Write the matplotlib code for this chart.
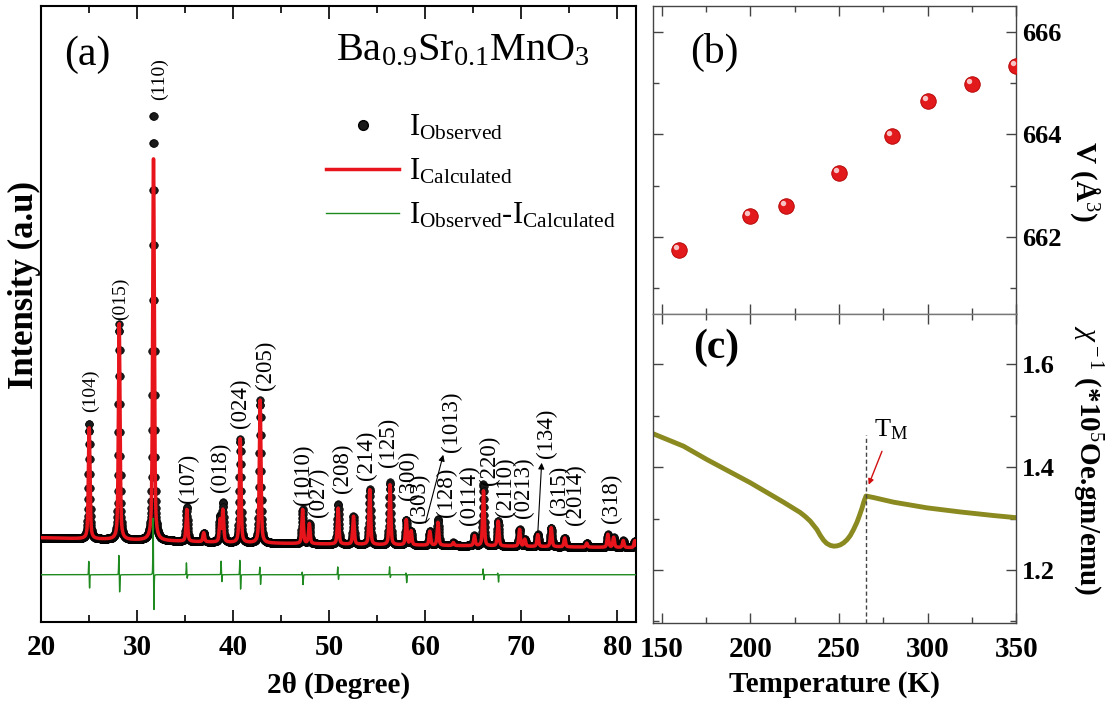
import numpy as np
import matplotlib.pyplot as plt
from matplotlib.lines import Line2D
from matplotlib.transforms import ScaledTranslation
from matplotlib.ticker import MultipleLocator

# ==========================================================
# DATA
# ==========================================================
# (a) XRD Rietveld refinement : peak list (2theta, calc / observed height, a.u.)
peak_pos = [24.97, 28.10, 31.67, 35.14, 36.90, 38.60, 38.90, 40.70, 42.78,
            47.20, 47.90, 50.90, 52.50, 54.20, 56.30, 58.00, 58.50, 60.45,
            61.30, 62.90, 65.10, 66.04, 67.57, 69.80, 70.35, 71.70, 73.10,
            74.50, 76.80, 79.00, 79.60, 80.60, 81.80]
calc_height = [112, 216, 385, 32, 9, 22, 32, 104, 143,
               34, 20, 36, 28, 55, 60, 25, 14, 14,
               23, 3, 10, 55, 25, 17, 7, 12, 19,
               9, 4, 13, 10, 7, 7]
obs_height = [116, 216, 428, 34, 9, 25, 39, 104, 143,
              34, 20, 40, 28, 55, 63, 25, 14, 14,
              26, 3, 10, 62, 25, 17, 7, 12, 19,
              9, 4, 13, 10, 7, 7]
peak_fwhm = 0.2

bg_theta = [20, 40, 55, 82]
bg_level = [2, -3, -5, -8]

# difference curve spikes
res_pos = [24.97, 28.10, 31.67, 35.14, 38.75, 40.70, 42.78, 47.20, 50.90,
           56.30, 58.00, 66.04, 67.57]
res_up = [15, 20, 63, 12, 15, 15, 8, 3, 8, 8, 2, 6, 2]
res_down = [15, 18, 40, 4, 8, 15, 10, 10, 5, 3, 8, 5, 8]
res_offset = -35

# Miller indices
hkl_text = ["(104)", "(015)", "(110)", "(107)", "(018)", "(024)", "(205)",
            "(1010)", "(027)", "(208)", "(214)", "(125)", "(300)", "(303)",
            "(128)", "(1013)", "(0114)", "(220)", "(2110)", "(0213)", "(134)",
            "(315)", "(2014)", "(318)"]
hkl_x = [25.1, 28.2, 32.3, 35.3, 38.6, 40.7, 43.3,
         47.3, 48.85, 51.4, 53.9, 56.1, 58.2, 59.4,
         62.2, 62.7, 64.6, 66.7, 68.3, 70.2, 72.6,
         74.0, 75.6, 79.4]
hkl_y = [128, 220, 440, 37, 48, 112, 150,
         35, 23, 47, 60, 73, 40, 17,
         23, 88, 15, 55, 23, 22, 82,
         25, 15, 17]

arrow_from = [(60.0, 17), (71.7, 7)]
arrow_to = [(61.85, 85), (72.1, 77)]

# (b) cell volume vs T
T_vol = [160, 200, 220, 250, 280, 300, 325, 350]
volume = [661.74, 662.41, 662.60, 663.25, 663.97, 664.66, 664.99, 665.34]

# (c) inverse susceptibility
T_chi = [145.3, 162.3, 175.5, 199.9, 218.7, 228.1, 231.0, 233.8, 237.5,
         239.5, 241.3, 243.0, 245.1, 247.0, 248.8, 250.7, 252.6, 254.5,
         256.3, 258.2, 260.1, 261.5, 262.9, 264.0, 265.2, 269.5, 280.8,
         299.6, 318.4, 337.2, 349.5]
chi_inv = [1.465, 1.441, 1.415, 1.370, 1.332, 1.312, 1.304, 1.295, 1.279,
           1.267, 1.258, 1.252, 1.248, 1.2465, 1.247, 1.249, 1.253, 1.259,
           1.267, 1.279, 1.293, 1.306, 1.320, 1.333, 1.344, 1.341, 1.332,
           1.321, 1.313, 1.306, 1.302]
T_M = 265.2


def pseudo_voigt(x, x0, h, w, eta=0.5):
    g = np.exp(-4 * np.log(2) * ((x - x0) / w) ** 2)
    l = 1.0 / (1 + 4 * ((x - x0) / w) ** 2)
    return h * (eta * l + (1 - eta) * g)


# --- style ---
plt.rcParams.update({
    "font.family": "Liberation Serif",
    "mathtext.fontset": "custom",
    "mathtext.rm": "Liberation Serif",
    "mathtext.it": "Liberation Serif:italic",
    "mathtext.bf": "Liberation Serif:bold",
})

fig = plt.figure(figsize=(11.12, 7.04), dpi=100)
ax_a = fig.add_axes([0.0373, 0.1169, 0.5344, 0.8746])
ax_b = fig.add_axes([0.587, 0.554, 0.3271, 0.4375])
ax_c = fig.add_axes([0.587, 0.115, 0.3271, 0.439])

# ==========================================================
# (a) XRD
# ==========================================================
tt = np.arange(20, 82.01, 0.02)
bg = np.interp(tt, bg_theta, bg_level)
calc = bg.copy()
obs = bg.copy()
for p, hc, ho in zip(peak_pos, calc_height, obs_height):
    calc += pseudo_voigt(tt, p, hc, peak_fwhm)
    obs += pseudo_voigt(tt, p, ho, peak_fwhm)

diff = np.full_like(tt, res_offset, dtype=float)
for p, u, d in zip(res_pos, res_up, res_down):
    diff += pseudo_voigt(tt, p - 0.04, u, 0.06, eta=0.3)
    diff -= pseudo_voigt(tt, p + 0.04, d, 0.06, eta=0.3)

ax_a.plot(tt, obs, 'o', ms=5.5, color='#1a1a1a', mec='black', mew=0.4, zorder=2)
ax_a.plot(tt, calc, color='#e8141b', lw=2.5, zorder=3)
ax_a.plot(tt, diff, color='#1f8a1f', lw=1.0, zorder=3)

for txt, x, y in zip(hkl_text, hkl_x, hkl_y):
    fs = 14 if txt in ("(104)", "(015)", "(110)") else 16.5
    ax_a.text(x, y, txt, rotation=90, ha='center', va='bottom', fontsize=fs)

for a0, a1 in zip(arrow_from, arrow_to):
    ax_a.annotate('', xy=a1, xytext=a0,
                  arrowprops=dict(arrowstyle='-|>', color='black', lw=0.8,
                                  mutation_scale=9, shrinkA=0, shrinkB=0))

ax_a.set_xlim(20, 81.9)
ax_a.set_ylim(-82, 534)
ax_a.xaxis.set_major_locator(MultipleLocator(10))
ax_a.xaxis.set_minor_locator(MultipleLocator(5))
ax_a.tick_params(axis='x', which='both', direction='in', top=True, bottom=True,
                 width=1.2, labelsize=21, pad=9)
ax_a.tick_params(axis='x', which='major', length=9)
ax_a.tick_params(axis='x', which='minor', length=5)
ax_a.tick_params(axis='y', left=False, labelleft=False)
for lab in ax_a.get_xticklabels():
    lab.set_fontweight('bold')
for s in ax_a.spines.values():
    s.set_linewidth(1.5)

ax_a.set_xlabel('2θ (Degree)', fontsize=21, fontweight='bold')
ax_a.xaxis.set_label_coords(0.5, -0.103)
ax_a.xaxis.label.set_va('center')
ax_a.set_ylabel('Intensity (a.u)', fontsize=25, fontweight='bold')
ax_a.yaxis.set_label_coords(-0.028, 0.547)
ax_a.yaxis.label.set_va('center')

ax_a.text(0.038, 0.92, '(a)', transform=ax_a.transAxes, fontsize=30,
          ha='left', va='center')
ax_a.text(0.496, 0.912, r'Ba$_{0.9}$Sr$_{0.1}$MnO$_{3}$', transform=ax_a.transAxes,
          fontsize=29, ha='left', va='baseline')

handles = [Line2D([], [], ls='', marker='o', ms=7, color='#1a1a1a', mec='black'),
           Line2D([], [], color='#e8141b', lw=2.5),
           Line2D([], [], color='#1f8a1f', lw=1.0)]
labels = [r'I$_{\rm Observed}$', r'I$_{\rm Calculated}$',
          r'I$_{\rm Observed}$-I$_{\rm Calculated}$']
ax_a.legend(handles, labels, loc='upper left', bbox_to_anchor=(0.478, 0.826),
            frameon=False, fontsize=22, handlelength=2.42, handletextpad=0.3,
            labelspacing=0.48, borderpad=0, borderaxespad=0, numpoints=1)

# ==========================================================
# (b) V vs T
# ==========================================================
ax_b.scatter(T_vol, volume, s=125, color='#e31a1c', edgecolors='#b00000',
             linewidths=0.6, zorder=3)
shine = ax_b.transData + ScaledTranslation(-2.2 / 72, 2.2 / 72, fig.dpi_scale_trans)
ax_b.scatter(T_vol, volume, s=15, color='white', alpha=0.75, lw=0,
             transform=shine, zorder=4)
ax_b.set_xlim(145, 350)
ax_b.set_ylim(660.49, 666.51)
ax_b.yaxis.set_major_locator(MultipleLocator(2))
ax_b.yaxis.set_minor_locator(MultipleLocator(1))
ax_b.yaxis.set_label_position('right')
ax_b.set_ylabel(r'V (Å$^{3}$)', fontsize=21, fontweight='bold', rotation=-90)
ax_b.yaxis.set_label_coords(1.188, 0.43)
ax_b.yaxis.label.set_va('center')
ax_b.text(0.103, 0.85, '(b)', transform=ax_b.transAxes, fontsize=30,
          ha='left', va='center')

# ==========================================================
# (c) inverse susceptibility
# ==========================================================
ax_c.plot(T_chi, chi_inv, color='#8a8a20', lw=3.5, solid_capstyle='round',
          solid_joinstyle='round')
ax_c.vlines(T_M, 1.097, 1.462, colors='#444444', linestyles=(0, (3, 2)), lw=1.0)
ax_c.text(269.8, 1.473, r'T$_{\rm M}$', fontsize=19, ha='left', va='center')
ax_c.annotate('', xy=(266.7, 1.366), xytext=(274.2, 1.431),
              arrowprops=dict(arrowstyle='-|>', color='#d01010', lw=1.0,
                              mutation_scale=8, shrinkA=0, shrinkB=0))
ax_c.set_xlim(145, 350)
ax_c.set_ylim(1.097, 1.698)
ax_c.yaxis.set_major_locator(MultipleLocator(0.2))
ax_c.yaxis.set_minor_locator(MultipleLocator(0.1))
ax_c.yaxis.set_label_position('right')
ax_c.set_ylabel(r'$\chi^{\rm -1}$ (*10$^{5}$Oe.gm/emu)', fontsize=21,
                fontweight='bold', rotation=-90)
ax_c.yaxis.set_label_coords(1.194, 0.527)
ax_c.yaxis.label.set_va('center')
ax_c.set_xlabel('Temperature (K)', fontsize=21, fontweight='bold')
ax_c.xaxis.set_label_coords(0.5, -0.2)
ax_c.xaxis.label.set_va('center')
ax_c.text(0.11, 0.89, '(c)', transform=ax_c.transAxes, fontsize=30,
          fontweight='bold', ha='left', va='center')

for ax in (ax_b, ax_c):
    ax.xaxis.set_major_locator(MultipleLocator(50))
    ax.xaxis.set_minor_locator(MultipleLocator(25))
    ax.tick_params(which='both', direction='in', top=True, bottom=True,
                   left=True, right=True, labelleft=False, labelright=True,
                   color='#444444', width=1.0)
    ax.tick_params(which='major', length=7)
    ax.tick_params(which='minor', length=4)
    ax.tick_params(axis='y', labelsize=19, pad=4)
    ax.tick_params(axis='x', labelsize=21, pad=9)
    for s in ax.spines.values():
        s.set_color('#444444')
        s.set_linewidth(1.0)
    for lab in ax.get_xticklabels() + ax.get_yticklabels():
        lab.set_fontweight('bold')

ax_b.tick_params(axis='x', labelbottom=False)
ax_b.spines['bottom'].set_color('#777777')
ax_c.spines['top'].set_color('#777777')

plt.savefig('out.png', dpi=100)
